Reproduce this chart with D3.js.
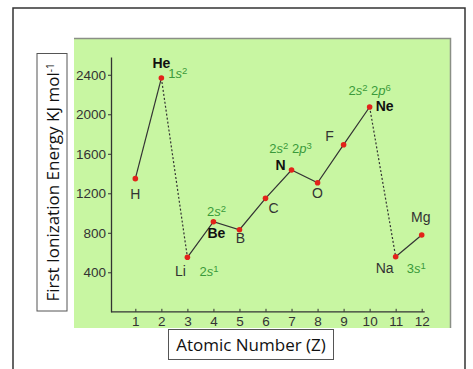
<!DOCTYPE html>
<html>
<head>
<meta charset="utf-8">
<script src="https://cdn.jsdelivr.net/npm/d3@7"></script>
<style>
  body { margin: 0; background: #fff; }
  svg { display: block; }
</style>
</head>
<body>
<div id="chart"></div>
<script>
// Data
const atomicNumbers = [1, 2, 3, 4, 5, 6, 7, 8, 9, 10, 11, 12];
const symbols = ["H", "He", "Li", "Be", "B", "C", "N", "O", "F", "Ne", "Na", "Mg"];
const energies = [1348, 2367, 552, 912, 831, 1149, 1436, 1307, 1692, 2074, 558, 778];
const yTicks = [400, 800, 1200, 1600, 2000, 2400];
// solid runs and dotted drops (index ranges)
const solidRuns = [[0, 1], [2, 9], [10, 11]];
const dottedRuns = [[1, 2], [9, 10]];

// label placement: dx, dy from point, bold?
const symbolLabels = [
  {i: 0, dx: 0, dy: 20, bold: false},
  {i: 1, dx: 0, dy: -10, bold: true},
  {i: 2, dx: -7, dy: 19, bold: false},
  {i: 3, dx: 3, dy: 16, bold: true},
  {i: 4, dx: 1, dy: 13, bold: false},
  {i: 5, dx: 8, dy: 15, bold: false},
  {i: 6, dx: -11, dy: 0, bold: true},
  {i: 7, dx: 0, dy: 15, bold: false},
  {i: 8, dx: -14, dy: -4, bold: false},
  {i: 9, dx: 15, dy: 4, bold: true},
  {i: 10, dx: -11, dy: 16, bold: false},
  {i: 11, dx: -1, dy: -13, bold: false}
];
// electron configurations: [number, orbital, exponent] parts
const configLabels = [
  {i: 1, dx: 7, dy: 0, anchor: "start", parts: [["1", "s", "2"]]},
  {i: 2, dx: 12, dy: 19, anchor: "start", parts: [["2", "s", "1"]]},
  {i: 3, dx: 3, dy: -6, anchor: "middle", parts: [["2", "s", "2"]]},
  {i: 6, dx: -1, dy: -17, anchor: "middle", parts: [["2", "s", "2"], ["2", "p", "3"]]},
  {i: 9, dx: 0, dy: -12, anchor: "middle", parts: [["2", "s", "2"], ["2", "p", "6"]]},
  {i: 10, dx: 11, dy: 16, anchor: "start", parts: [["3", "s", "1"]]}
];

const W = 473, H = 369;
const svg = d3.select("#chart").append("svg")
  .attr("width", W).attr("height", H);

// outer frame
svg.append("path")
  .attr("d", `M13,${H} L13,8 L465,8 L465,${H}`)
  .attr("fill", "none").attr("stroke", "#333").attr("stroke-width", 1.5);

// green panel
svg.append("rect")
  .attr("x", 74).attr("y", 38).attr("width", 377).attr("height", 290)
  .attr("fill", "#c8f6a2");
svg.append("path")
  .attr("d", "M74,38.5 L450.5,38.5 L450.5,328")
  .attr("fill", "none").attr("stroke", "#8a8f86").attr("stroke-width", 1.5);

const x = d3.scaleLinear().domain([0, 12]).range([109.3, 421.7]);
const y = d3.scaleLinear().domain([0, 2580]).range([311.8, 57]);

const font = "'Liberation Sans', Arial, sans-serif";

// axes
const yAxis = svg.append("g")
  .attr("transform", "translate(111,0)")
  .call(d3.axisLeft(y).tickValues(yTicks).tickFormat(d3.format("d"))
    .tickSize(3).tickPadding(2).tickSizeOuter(0));
yAxis.select(".domain").attr("stroke", "#333").attr("stroke-width", 1.3);
yAxis.selectAll(".tick line").attr("stroke", "#333");
yAxis.selectAll(".tick text").attr("font-family", font).attr("font-size", 13.5).attr("fill", "#333");

const xAxis = svg.append("g")
  .attr("transform", "translate(0,311.8)")
  .call(d3.axisBottom(x).tickValues(atomicNumbers).tickSize(-3).tickPadding(5).tickSizeOuter(0));
xAxis.select(".domain").attr("d", `M111,0 H${x(12) + 3}`).attr("stroke", "#333").attr("stroke-width", 1.3);
xAxis.selectAll(".tick line").attr("stroke", "#333");
xAxis.selectAll(".tick text").attr("font-family", font).attr("font-size", 13.5).attr("fill", "#333");

// lines
const line = d3.line()
  .x(i => x(atomicNumbers[i]))
  .y(i => y(energies[i]));
solidRuns.forEach(([a, b]) => {
  svg.append("path")
    .attr("d", line(d3.range(a, b + 1)))
    .attr("fill", "none").attr("stroke", "#333").attr("stroke-width", 1.2);
});
dottedRuns.forEach(([a, b]) => {
  svg.append("path")
    .attr("d", line(d3.range(a, b + 1)))
    .attr("fill", "none").attr("stroke", "#333").attr("stroke-width", 1.2)
    .attr("stroke-dasharray", "2,2");
});

// points
svg.selectAll("circle.pt")
  .data(atomicNumbers)
  .enter().append("circle")
  .attr("class", "pt")
  .attr("cx", (d) => x(d))
  .attr("cy", (d, i) => y(energies[i]))
  .attr("r", 2.8)
  .attr("fill", "#e2231a");

// element symbols
svg.selectAll("text.sym")
  .data(symbolLabels)
  .enter().append("text")
  .attr("class", "sym")
  .attr("x", d => x(atomicNumbers[d.i]) + d.dx)
  .attr("y", d => y(energies[d.i]) + d.dy)
  .attr("text-anchor", "middle")
  .attr("font-family", font)
  .attr("font-size", 14)
  .attr("font-weight", d => d.bold ? "bold" : "normal")
  .attr("fill", d => d.bold ? "#111" : "#333")
  .text(d => symbols[d.i]);

// electron configurations
configLabels.forEach(c => {
  const t = svg.append("text")
    .attr("x", x(atomicNumbers[c.i]) + c.dx)
    .attr("y", y(energies[c.i]) + c.dy)
    .attr("text-anchor", c.anchor)
    .attr("font-family", font)
    .attr("font-size", 13)
    .attr("fill", "#3a9a3a");
  c.parts.forEach((p, k) => {
    t.append("tspan").text((k > 0 ? "\u00a0" : "") + p[0]);
    t.append("tspan").attr("font-style", "italic").text(p[1]);
    t.append("tspan").attr("font-size", 9.5).attr("baseline-shift", "40%").text(p[2]);
  });
});

// axis title boxes
svg.append("rect")
  .attr("x", 37).attr("y", 53.5).attr("width", 30).attr("height", 257.5)
  .attr("fill", "#fff").attr("stroke", "#555").attr("stroke-width", 1);
const yt = svg.append("text")
  .attr("transform", "translate(58.5,182.5) rotate(-90)")
  .attr("text-anchor", "middle")
  .attr("font-family", "'Open Sans', 'Noto Sans', sans-serif")
  .attr("font-size", 17)
  .attr("fill", "#111");
yt.append("tspan").text("First Ionization Energy KJ mol");
yt.append("tspan").attr("font-size", 10).attr("baseline-shift", "55%").text("-1");

svg.append("rect")
  .attr("x", 168.5).attr("y", 329.5).attr("width", 165).attr("height", 30)
  .attr("fill", "#fff").attr("stroke", "#555").attr("stroke-width", 1);
svg.append("text")
  .attr("x", 251).attr("y", 350.5)
  .attr("text-anchor", "middle")
  .attr("font-family", "'Open Sans', 'Noto Sans', sans-serif")
  .attr("font-size", 17)
  .attr("fill", "#111")
  .text("Atomic Number (Z)");
</script>
</body>
</html>
